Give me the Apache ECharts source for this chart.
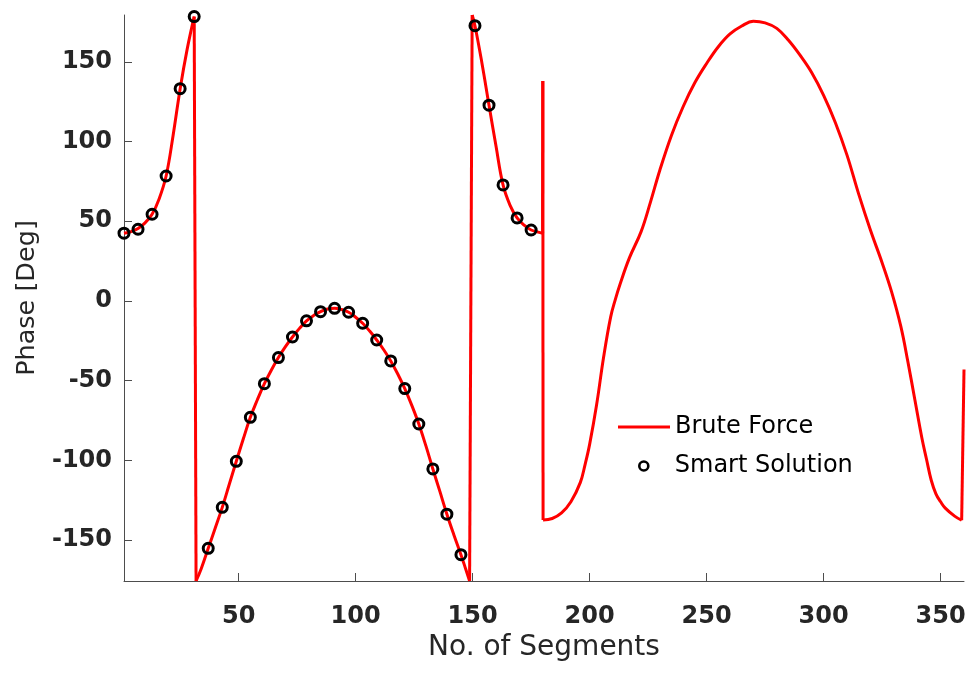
<!DOCTYPE html>
<html>
<head>
<meta charset="utf-8">
<script src="https://cdn.jsdelivr.net/npm/echarts@6/dist/echarts.min.js"></script>
<style>html,body{margin:0;padding:0;background:#fff}#chart{width:971px;height:677px}</style>
</head>
<body>
<div id="chart"></div>
<script>
// Brute Force curve (segment number, phase in degrees)
const bfX = [1,4,7,10,13,16,19,22,25,28,31,31.8,34,37,40,43,46,49,52,55,58,61,64,67,70,73,76,79,82,85,88,91,94,97,100,103,106,109,112,115,118,121,124,127,130,133,136,139,142,145,147,148.7,149.8,151,154,157,160,163,166,169,172,175,178,179.9,180,180.1,184,188,192,196,198,200,203,206,209,211,213,217,222,226,230,235,240,245,250,255,260,265,270,275,280,285,290,295,300,305,310,315,320,325,329,333,336,339,342,344,346,348,350,352,356,359,360];
const bfY = [42.5,43.5,45.5,49,54.4,64,78.4,104,133.2,158,178.4,-175.7,-168,-155.2,-142.5,-129.5,-115,-100.6,-86.5,-73,-62,-51.9,-43.3,-35.5,-28.7,-22.6,-17.2,-12.5,-9.2,-6.7,-5.1,-4.6,-5.4,-7.1,-10.2,-14,-18.9,-24.5,-30.6,-37.6,-45.8,-55,-65.5,-77.2,-90.8,-105.4,-119.5,-133.8,-146.8,-159.2,-168,-175.7,179.4,172.7,149,122.8,97,72.8,60,52.1,47.5,44.5,43.2,42.5,138,-137.4,-136.5,-133,-126,-114,-103,-90,-65,-35,-10,1,10.5,27,43.5,62,82,104,122,137,149,159.5,167.5,172.5,175.5,174.5,171,163.5,154,143,129,112,91.5,67,44.5,24,6,-16,-38,-62,-86,-99.5,-112.5,-121,-126,-130,-135,-137.6,-43];
// Smart Solution points
const ssX = [1,7,13,19,25,31,37,43,49,55,61,67,73,79,85,91,97,103,109,115,121,127,133,139,145,151,157,163,169,175];
const ssY = [42.5,45,54.4,78.4,133.2,178.4,-155.2,-129.5,-100.6,-73,-51.9,-35.5,-22.6,-12.5,-6.7,-4.6,-7.1,-14,-24.5,-37.6,-55,-77.2,-105.4,-133.8,-159.2,172.7,122.8,72.8,52.1,44.5];
const xTicks = [50,100,150,200,250,300,350];
const yTicks = [-150,-100,-50,0,50,100,150];

const bfData = bfX.map((x,i)=>[x,bfY[i]]);
const ssData = ssX.map((x,i)=>[x,ssY[i]]);

// split the brute-force curve into smooth runs and straight wrap-around jumps
const runs = [], jumps = [];
let cur = [bfData[0]];
for (let i = 1; i < bfData.length; i++) {
  if (Math.abs(bfY[i] - bfY[i-1]) > 60) {
    runs.push(cur);
    jumps.push([bfData[i-1], bfData[i]]);
    cur = [bfData[i]];
  } else cur.push(bfData[i]);
}
runs.push(cur);

const red = '#ff0000';
const bfSeries = [];
runs.forEach(r => bfSeries.push({name:'Brute Force', type:'line', data:r, showSymbol:false, symbol:'none',
  smooth:0.4, lineStyle:{color:red, width:3}, itemStyle:{color:red}, clip:true, z:2}));
jumps.forEach(r => bfSeries.push({name:'Brute Force', type:'line', data:r, showSymbol:false, symbol:'none',
  lineStyle:{color:red, width:3}, itemStyle:{color:red}, clip:true, z:2}));

const axisColor = '#4d4d4d';
const textColor = '#262626';
const chart = echarts.init(document.getElementById('chart'));
chart.setOption({
  animation: false,
  grid: {left:124, right:7, top:15, bottom:96},
  xAxis: {
    type:'value', min:1, max:360,
    name:'No. of Segments', nameLocation:'middle', nameGap:46,
    nameTextStyle:{fontFamily:'DejaVu Sans', fontSize:28, color:textColor},
    axisLine:{show:true, onZero:false, lineStyle:{color:axisColor, width:1}},
    axisTick:{show:true, inside:true, length:8, customValues:xTicks, lineStyle:{color:axisColor}},
    axisLabel:{customValues:xTicks, margin:24, fontFamily:'DejaVu Sans', fontWeight:'bold', fontSize:24, color:textColor},
    splitLine:{show:false}
  },
  yAxis: {
    type:'value', min:-175.7, max:179.4,
    name:'Phase [Deg]', nameLocation:'middle', nameGap:84, nameRotate:90,
    nameTextStyle:{fontFamily:'DejaVu Sans', fontSize:25.5, color:textColor},
    axisLine:{show:true, onZero:false, lineStyle:{color:axisColor, width:1}},
    axisTick:{show:true, inside:true, length:8, customValues:yTicks, lineStyle:{color:axisColor}},
    axisLabel:{customValues:yTicks, margin:12, fontFamily:'DejaVu Sans', fontWeight:'bold', fontSize:24, color:textColor},
    splitLine:{show:false}
  },
  legend: [
    {data:[{name:'Brute Force', icon:'rect'}], left:618, top:415, padding:0, itemWidth:52, itemHeight:3,
     textStyle:{fontFamily:'DejaVu Sans', fontSize:24, color:'#000'},
     itemStyle:{color:red}},
    {data:[{name:'Smart Solution', icon:'circle'}], left:638, top:454, padding:0, itemWidth:52, itemHeight:9,
     textStyle:{fontFamily:'DejaVu Sans', fontSize:24, color:'#000'},
     itemStyle:{color:'rgba(0,0,0,0)', borderColor:'#000', borderWidth:2.6}}
  ],
  series: bfSeries.concat([
    {name:'Smart Solution', type:'scatter', data:ssData, symbol:'circle', symbolSize:10,
     itemStyle:{color:'rgba(0,0,0,0)', borderColor:'#000', borderWidth:3, opacity:1}, clip:false, z:3}
  ])
});
</script>
</body>
</html>
